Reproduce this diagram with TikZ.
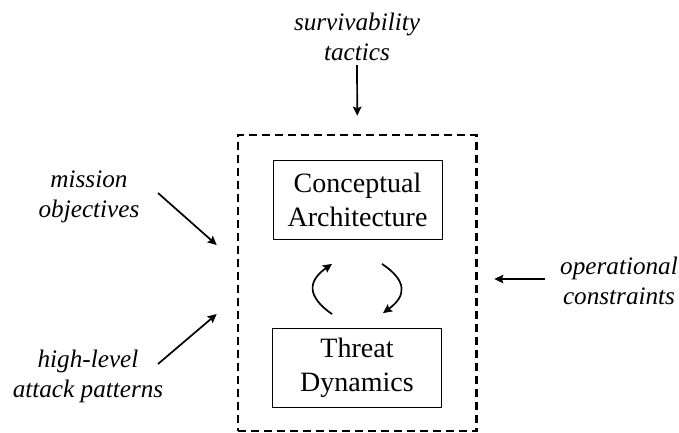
\documentclass[tikz,border=0pt]{standalone}
\usepackage{fontspec}
\setmainfont{Liberation Serif}
\usetikzlibrary{arrows.meta}

\begin{document}
\begin{tikzpicture}[x=1pt,y=-1pt,
    arr/.style={-{Stealth[length=9pt,width=8.5pt,inset=1.5pt]},line width=1.7pt}]

        \useasboundingbox (0,0) rectangle (679,432);

        \begin{scope}[every node/.style={draw, line width=0.8pt, minimum width=169pt, minimum height=79pt, align=center, font=\fontsize{28}{34}\selectfont}]
          \node (ca) at (357.5,200) {Conceptual\\Architecture};
          \node (td) at (357,368)   {Threat\\Dynamics};
        \end{scope}

        \node[draw, line width=2.6pt, dash pattern=on 8pt off 5pt, minimum width=238.5pt, minimum height=296pt] (sys) at (357.25,283) {};

        \begin{scope}[every node/.style={align=center, font=\fontsize{25.2}{30}\selectfont\itshape}]
          \node (st) at (357,37)  {survivability\\tactics};
          \node (mo) at (89,197)  {mission\\objectives};
          \node (ap) at (88,376)  {high-level\\attack patterns};
          \node (oc) at (619,281) {operational\\constraints};
        \end{scope}

        % arrow ends
        \coordinate (st-out) at (357,65);
        \coordinate (mo-out) at (158,193);
        \coordinate (ap-out) at (158,364);
        \coordinate (oc-out) at (545,279);
        \coordinate (sys-st) at ([yshift=18pt]sys.north);
        \coordinate (sys-mo) at ([xshift=-20pt,yshift=38pt]sys.west);
        \coordinate (sys-ap) at ([xshift=-20pt,yshift=-31pt]sys.west);
        \coordinate (sys-oc) at ([xshift=16.5pt,yshift=4pt]sys.east);

        \begin{scope}[every edge/.style={draw, arr}]
          \path (st-out) edge (sys-st);
          \path (mo-out) edge (sys-mo);
          \path (ap-out) edge (sys-ap);
          \path (oc-out) edge (sys-oc);
          \path ([xshift=-25pt,yshift=14pt]td.north) edge[bend left=55, looseness=1.55] ([xshift=-25.5pt,yshift=-24pt]ca.south);
          \path ([xshift=24.5pt,yshift=-24pt]ca.south) edge[bend left=55, looseness=1.55] ([xshift=26pt,yshift=15pt]td.north);
        \end{scope}

      \end{tikzpicture}
\end{document}
